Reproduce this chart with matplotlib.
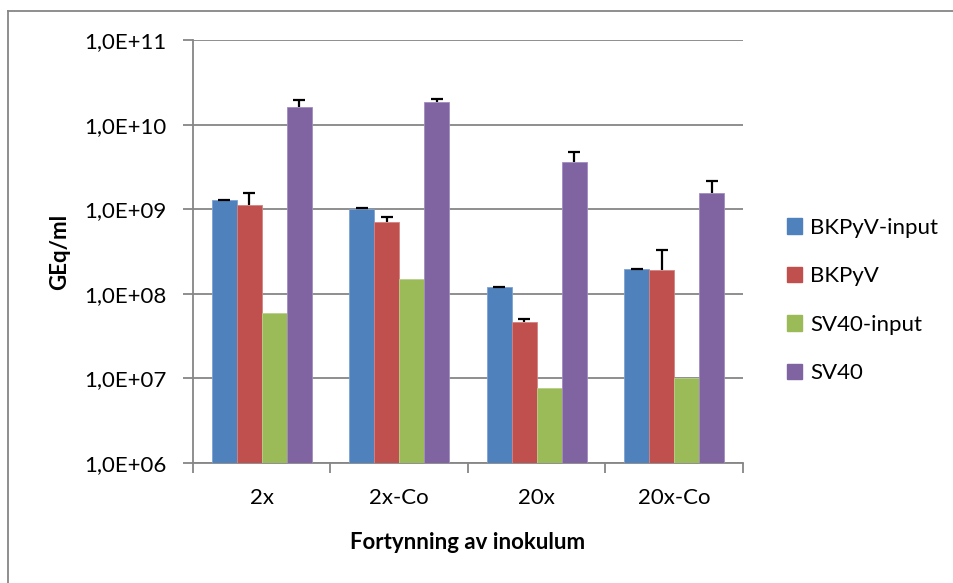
import matplotlib
matplotlib.use("Agg")
import matplotlib.pyplot as plt
import numpy as np
from matplotlib.patches import Patch
from matplotlib.lines import Line2D
from matplotlib.ticker import FixedLocator, FuncFormatter, NullLocator

categories = ["2x", "2x-Co", "20x", "20x-Co"]
series_names = ["BKPyV-input", "BKPyV", "SV40-input", "SV40"]
bkpyv_input = [1.27e9, 1.01e9, 1.19e8, 1.97e8]
bkpyv = [1.13e9, 7.1e8, 4.6e7, 1.89e8]
sv40_input = [6.0e7, 1.49e8, 7.8e6, 1.0e7]
sv40 = [1.62e10, 1.84e10, 3.66e9, 1.56e9]
bkpyv_input_err = [0.02e9, 0.01e9, 0.01e8, 0.02e8]
bkpyv_err = [0.44e9, 0.97e8, 0.43e7, 1.36e8]
sv40_input_err = [0, 0, 0, 0]
sv40_err = [0.32e10, 0.15e10, 1.14e9, 0.6e9]
y_ticks = [1e6, 1e7, 1e8, 1e9, 1e10, 1e11]

values = [bkpyv_input, bkpyv, sv40_input, sv40]
errors = [bkpyv_input_err, bkpyv_err, sv40_input_err, sv40_err]
colors = ["#4F81BD", "#C0504D", "#9BBB59", "#8064A2"]
edges = ["#7EA2D3", "#D48381", "#B8D08A", "#A28DC0"]

FONT = "Lato"
plt.rcParams["font.family"] = [FONT, "DejaVu Sans"]

fig = plt.figure(figsize=(9.54, 5.83), dpi=100)
W, H = 954, 583
left, right, top, bottom = 193, 743, 40, 463
ax = fig.add_axes([left / W, 1 - bottom / H, (right - left) / W, (bottom - top) / H])

x = np.arange(len(categories))
width = 1 / 5.5
base = 1e6
for i, (vals, errs) in enumerate(zip(values, errors)):
    pos = x + (i - 1.5) * width
    heights = np.array(vals) - base
    ax.bar(pos, heights, width, bottom=base, color=colors[i], edgecolor=edges[i],
           linewidth=0.6, zorder=3, label=series_names[i])
    if any(e > 0 for e in errs):
        _, caps, _ = ax.errorbar(pos, vals, yerr=[np.zeros(len(errs)), errs], fmt="none",
                                 ecolor="black", elinewidth=1.6, capsize=4.5,
                                 capthick=1.6, zorder=4)
        if len(caps) == 2:
            caps[0].set_visible(False)

ax.set_yscale("log")
ax.set_ylim(1e6, 1e11)
ax.set_xlim(-0.5, 3.5)
ax.yaxis.set_major_locator(FixedLocator(y_ticks))
ax.yaxis.set_minor_locator(NullLocator())
ax.yaxis.set_major_formatter(FuncFormatter(lambda v, p: "1,0E+%02d" % int(round(np.log10(v)))))

grid_c = "#868686"
ax.grid(axis="y", color=grid_c, linewidth=1.3, zorder=0)
ax.set_axisbelow(True)
for s in ["top", "right"]:
    ax.spines[s].set_visible(False)
for s in ["left", "bottom"]:
    ax.spines[s].set_color(grid_c)
    ax.spines[s].set_linewidth(1.3)

ax.set_xticks(x)
ax.set_xticklabels(categories)
ax.set_xticks([-0.5, 0.5, 1.5, 2.5, 3.5], minor=True)
ax.tick_params(axis="x", which="major", length=0, pad=18, labelsize=16)
ax.tick_params(axis="x", which="minor", length=7, width=1.3, color=grid_c, direction="out")
ax.tick_params(axis="y", which="major", length=7, width=1.3, color=grid_c, pad=12, labelsize=16)

ax.set_xlabel("Fortynning av inokulum", fontsize=16, fontweight="bold", labelpad=17)
fig.text(60 / W, 1 - 252 / H, "GEq/ml", fontsize=16, fontweight="bold",
         rotation=90, ha="center", va="center")

handles = [Patch(facecolor=c, edgecolor=c) for c in colors]
fig.legend(handles, series_names, loc="upper left",
           bbox_to_anchor=(778 / W, 1 - 209 / H), frameon=False, fontsize=16,
           handlelength=0.7, handleheight=0.7, handletextpad=0.35, labelspacing=1.28,
           borderaxespad=0)

fig.add_artist(Line2D([8 / W, 8 / W], [0, 1 - 11 / H], transform=fig.transFigure,
                      color=grid_c, linewidth=1.3))
fig.add_artist(Line2D([8 / W, 1], [1 - 11 / H, 1 - 11 / H], transform=fig.transFigure,
                      color=grid_c, linewidth=1.3))

fig.savefig("out.png", dpi=100, facecolor="white")
